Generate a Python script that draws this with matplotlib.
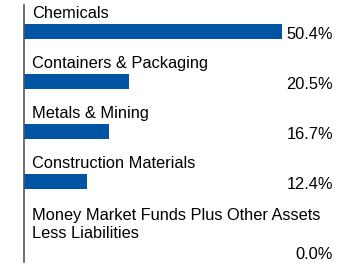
import matplotlib
matplotlib.use("Agg")
import matplotlib.pyplot as plt

# data
categories = [
    "Chemicals",
    "Containers & Packaging",
    "Metals & Mining",
    "Construction Materials",
    "Money Market Funds Plus Other Assets\nLess Liabilities",
]
values = [50.4, 20.5, 16.7, 12.4, 0.0]
value_labels = ["50.4%", "20.5%", "16.7%", "12.4%", "0.0%"]

plt.rcParams["font.family"] = ["Liberation Sans", "DejaVu Sans"]

W, H = 360, 266
fig = plt.figure(figsize=(W / 100, H / 100), dpi=100)
# axes spans from the vertical line at x=24px to the right edge
ax = fig.add_axes([24 / W, 4 / H, 336 / W, 257 / H])

# y positions (in pixel-like units, top down); multi-line labels need more room
ypos = []
y = 30.5
for i, c in enumerate(categories):
    extra = c.count("\n")
    y += 20 * extra
    ypos.append(y)
    y += 50

bar_h = 15
ax.barh(ypos, values, height=bar_h, color="#0054a4", left=0)

ax.set_ylim(261, 4)
ax.set_xlim(0, 336 / 5.119)

tr = ax.get_yaxis_transform()
for yc, c, lab in zip(ypos, categories, value_labels):
    # baseline of the last label line sits 6px above the bar
    ax.text(8 / 336, yc - bar_h / 2 - 6, c, transform=tr,
            ha="left", va="baseline", fontsize=11.8, color="#000000",
            linespacing=1.25)
    ax.text(309 / 336, yc + bar_h / 2, lab, transform=tr,
            ha="right", va="baseline", fontsize=11.8, color="#000000")

for s in ["top", "right", "bottom"]:
    ax.spines[s].set_visible(False)
ax.spines["left"].set_color("#555555")
ax.spines["left"].set_linewidth(1.2)
ax.set_xticks([])
ax.set_yticks([])
ax.patch.set_alpha(0)

fig.savefig("out.png", dpi=100, facecolor="white")
